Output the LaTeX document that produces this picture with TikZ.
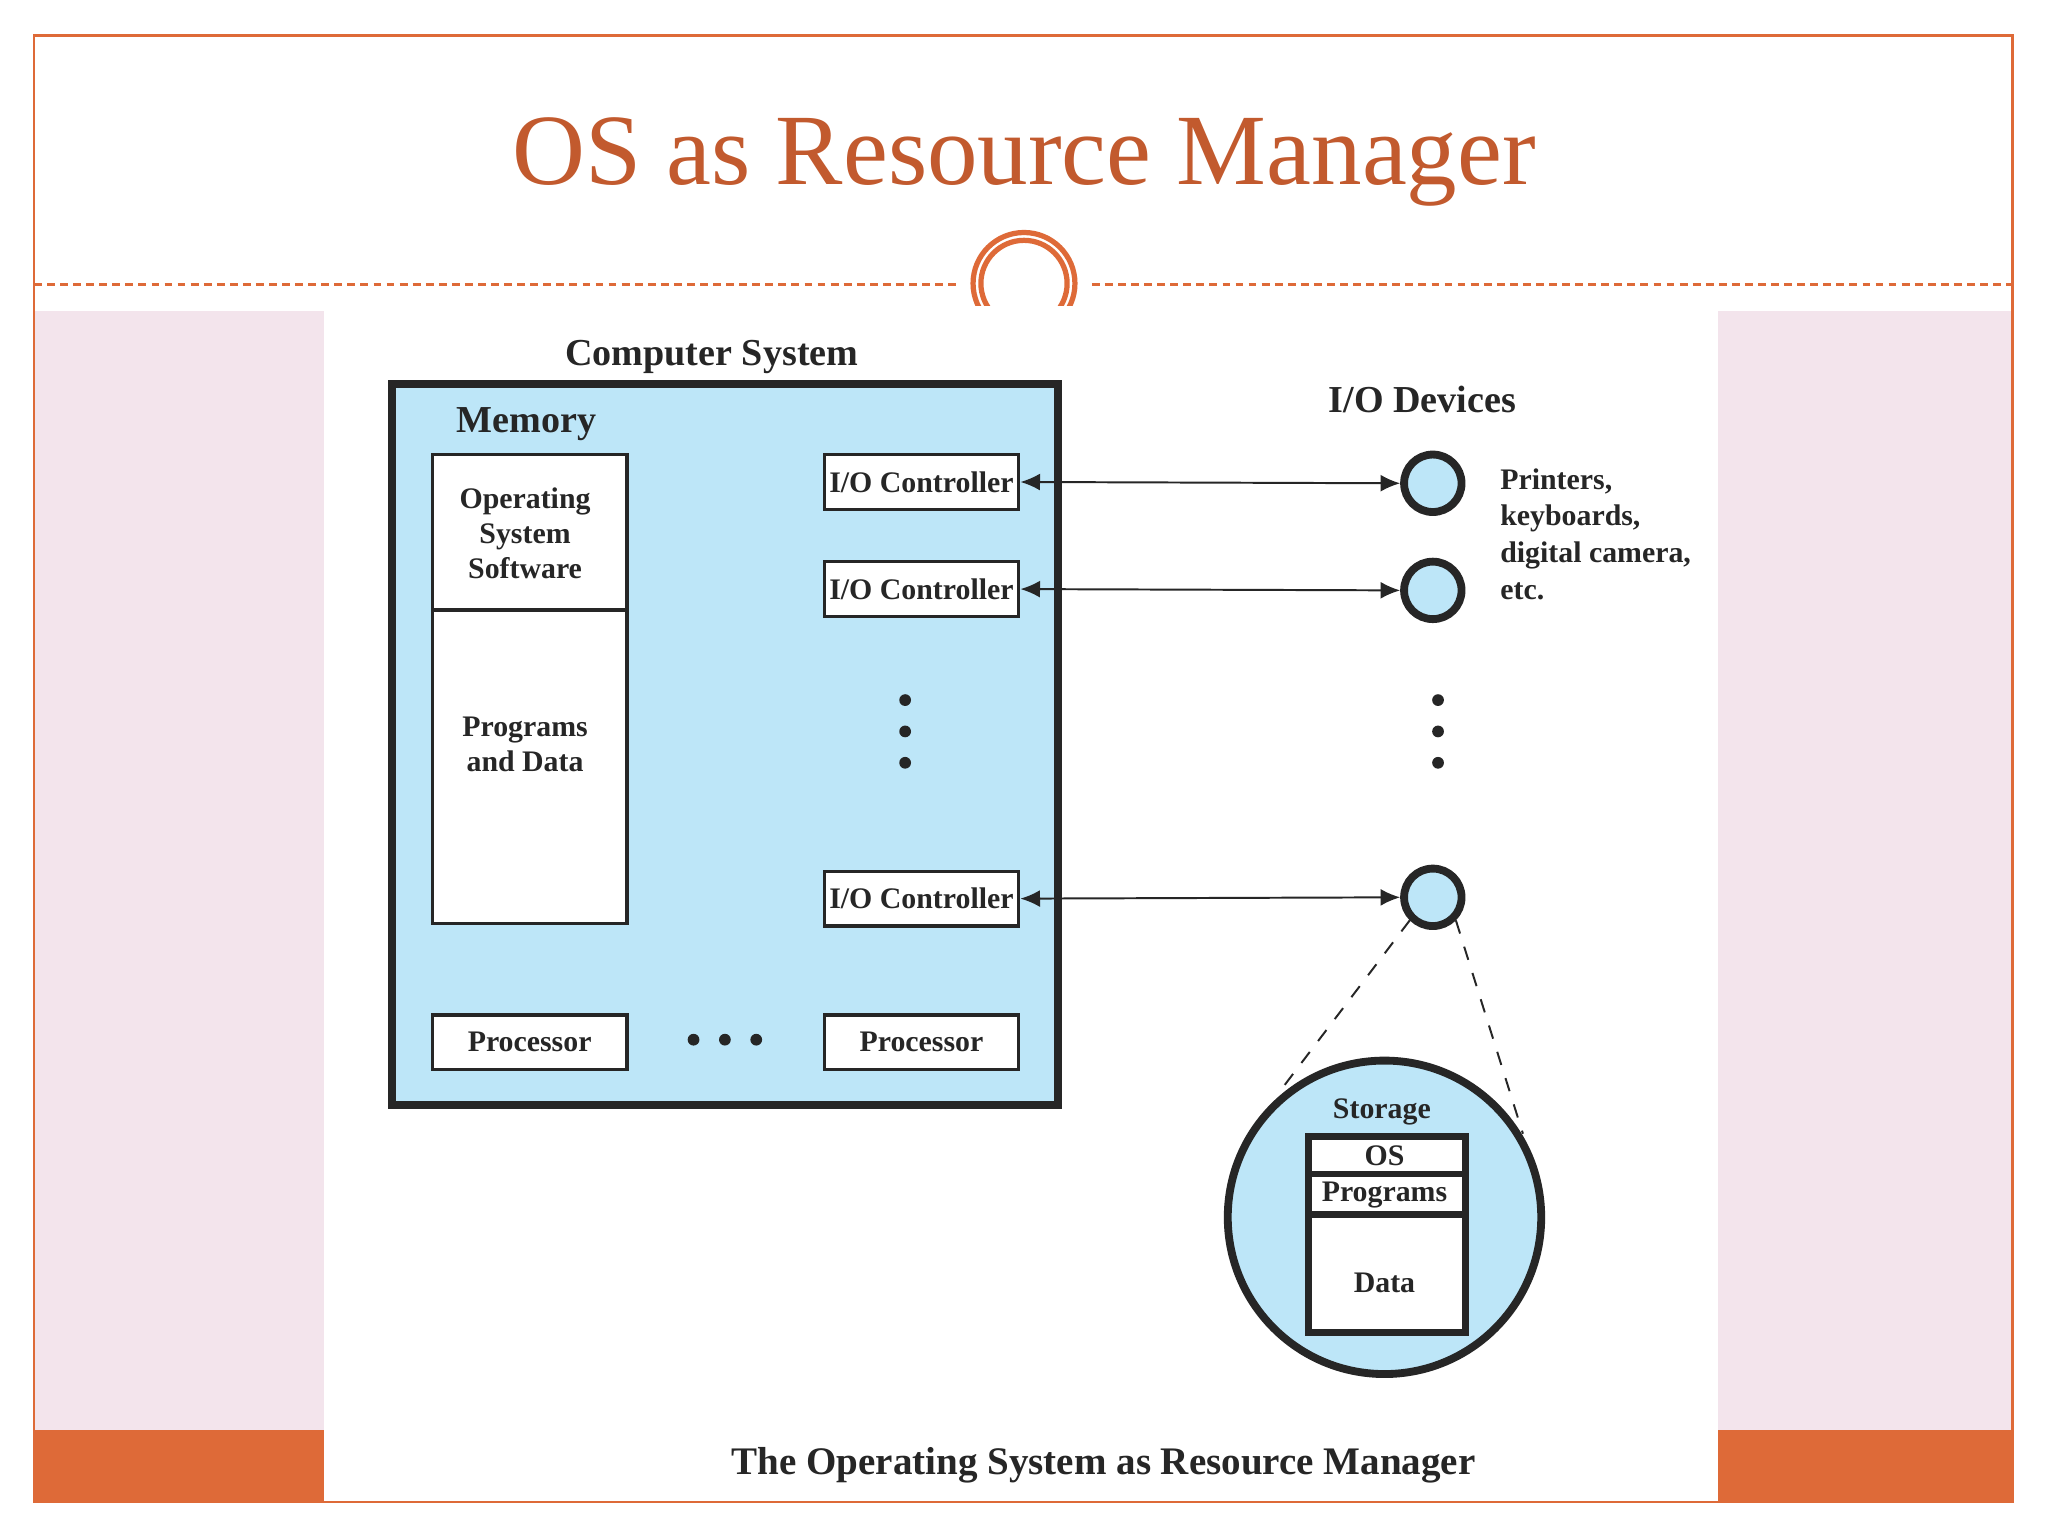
\documentclass[tikz,border=0pt]{standalone}
\usepackage{fontspec}
\setmainfont{Liberation Serif}
\usetikzlibrary{arrows.meta}
\definecolor{ttl}{HTML}{C25A2E}
\definecolor{org}{HTML}{DE6A38}
\definecolor{pnk}{HTML}{F3E4EC}
\definecolor{lb}{HTML}{BDE6F8}
\definecolor{dk}{HTML}{262626}
\begin{document}
\begin{tikzpicture}[x=0.1mm,y=-0.1mm,
  box/.style={draw=dk,fill=white,line width=0.25mm},
  t/.style={font=\fontsize{6.5pt}{7.6pt}\selectfont\bfseries,text=dk,align=center,inner sep=0},
  ctl/.style={box,t,minimum width=14.9mm,minimum height=4.2mm},
  dev/.style={circle,draw=dk,fill=lb,line width=0.6mm,minimum size=4.4mm,inner sep=0},
  dot/.style={circle,fill=dk,minimum size=0.9mm,inner sep=0},
  conn/.style={draw=dk,line width=0.15mm,{Latex[length=1.5mm,width=1.3mm]}-{Latex[length=1.5mm,width=1.3mm]}}]
\useasboundingbox (0,0) rectangle (1568,1176);
\fill[white] (0,0) rectangle (1568,1176);
% panels
\fill[pnk] (26,238) rectangle (248,1095);
\fill[pnk] (1315,238) rectangle (1541,1095);
\fill[org] (26,1095) rectangle (248,1150);
\fill[org] (1315,1095) rectangle (1541,1150);
\draw[org,line width=0.2mm] (26,27) rectangle (1541,1150);
% title
\node[text=ttl,font=\fontsize{22pt}{26pt}\selectfont,inner sep=0] (title) at (784,124) {OS as Resource Manager};
\draw[org,line width=0.2mm,dash pattern=on 0.6mm off 0.4mm] (26,218) -- (733,218);
\draw[org,line width=0.2mm,dash pattern=on 0.6mm off 0.4mm] (836,218) -- (1541,218);
\begin{scope}
\clip (700,150) rectangle (870,234);
\draw[org,line width=0.4mm] (784,217) circle (39);
\draw[org,line width=0.4mm] (784,217) circle (33);
\end{scope}
% computer system
\node[t,font=\fontsize{8.3pt}{9pt}\selectfont\bfseries] (cs) at (545,273) {Computer System};
\draw[draw=dk,fill=lb,line width=0.6mm] (300,294) rectangle (810,846);
\node[t,font=\fontsize{8.3pt}{9pt}\selectfont\bfseries] (mem) at (403,325) {Memory};
\draw[box] (331,348) rectangle (480,467);
\draw[box] (331,467) rectangle (480,707);
\node[t] (oss) at (402,408) {Operating\\System\\Software};
\node[t] (pd) at (402,570) {Programs\\and Data};
\node[ctl] (c1) at (705.5,369) {I/O Controller};
\node[ctl] (c2) at (705.5,451) {I/O Controller};
\node[ctl] (c3) at (705.5,688) {I/O Controller};
\foreach \y in {536,560,584} \node[dot] at (693,\y) {};
\node[ctl] (p1) at (405.5,798) {Processor};
\node[ctl] (p2) at (705.5,798) {Processor};
\foreach \x in {531,555,579} \node[dot] at (\x,796) {};
% devices
\node[t,font=\fontsize{8.3pt}{9pt}\selectfont\bfseries] (iod) at (1089,306) {I/O Devices};
\node[dev] (d1) at (1097,370) {};
\node[dev] (d2) at (1097,452) {};
\node[dev] (d3) at (1097,687) {};
\draw[conn] (c1.east) -- (d1.west);
\draw[conn] (c2.east) -- (d2.west);
\draw[conn] (c3.east) -- (d3.west);
\node[t,align=left,anchor=north west,font=\fontsize{6.5pt}{8pt}\selectfont\bfseries] (pr) at (1148,358) {Printers,\\keyboards,\\digital camera,\\etc.};
\foreach \y in {536,560,584} \node[dot] at (1101,\y) {};
% storage
\node[circle,draw=dk,fill=lb,line width=0.6mm,minimum size=24mm,inner sep=0] (st) at (1060,932) {};
\draw[dk,dashed,line width=0.15mm] (d3.south west) -- (978,838);
\draw[dk,dashed,line width=0.15mm] (d3.south east) -- (1166,868);
\node[t] (stl) at (1058,851) {Storage};
\draw[draw=dk,fill=white,line width=0.5mm] (1002,870) rectangle (1122,1020);
\draw[dk,line width=0.5mm] (1002,899) -- (1122,899) (1002,930) -- (1122,930);
\node[t] (sos) at (1060,885) {OS};
\node[t] (spr) at (1060,915) {Programs};
\node[t] (sda) at (1060,982) {Data};
\node[t,font=\fontsize{8.5pt}{9pt}\selectfont\bfseries] (cap) at (845,1122) {The Operating System as Resource Manager};
\end{tikzpicture}
\end{document}
